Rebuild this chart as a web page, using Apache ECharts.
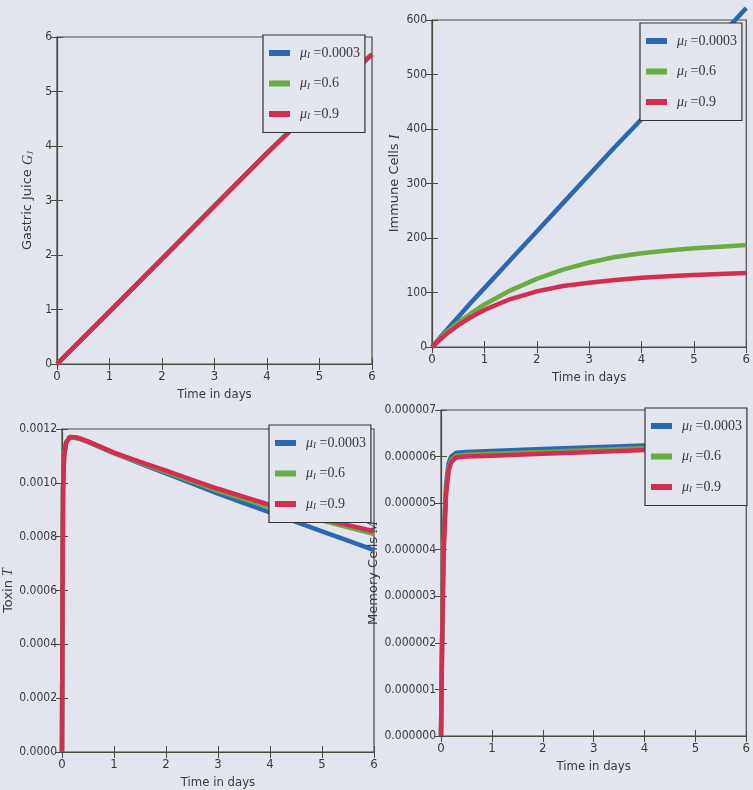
<!DOCTYPE html>
<html>
<head>
<meta charset="utf-8">
<script src="https://cdn.jsdelivr.net/npm/echarts@6/dist/echarts.min.js"></script>
<style>
  html, body { margin: 0; padding: 0; background: #e3e5ee; }
  #chart { width: 753px; height: 790px; }
</style>
</head>
<body>
<div id="chart"></div>
<script>
// legend values of mu_I
const muValues = ["0.0003", "0.6", "0.9"];
const lineColors = ["#2c68b2", "#6aab42", "#d42d52"];

// Gastric juice G_J
const timeG = [0, 1, 2, 3, 4, 5, 6];
const gastricA = [0, 0.96, 1.93, 2.9, 3.87, 4.8, 5.68];
const gastricB = [0, 0.96, 1.93, 2.9, 3.87, 4.8, 5.68];
const gastricC = [0, 0.96, 1.93, 2.9, 3.87, 4.8, 5.68];

// Immune cells I
const timeI = [0, 0.25, 0.5, 0.75, 1, 1.5, 2, 2.5, 3, 3.5, 4, 4.5, 5, 5.5, 6];
const immuneA = [0, 28, 55, 82, 108, 160, 212, 264, 316, 368, 418, 470, 520, 570, 622];
const immuneB = [0, 25, 45, 62, 78, 104, 125, 142, 155, 165, 172, 177, 181, 184, 187];
const immuneC = [0, 22, 40, 55, 68, 88, 102, 112, 118, 123, 127, 130, 132, 134, 136];

// Toxin T
const timeT = [0, 0.01, 0.02, 0.04, 0.08, 0.15, 0.3, 0.5, 1, 1.5, 2, 2.5, 3, 3.5, 4, 4.5, 5, 5.5, 6];
const toxinA = [0, 0.0006, 0.00098, 0.0011, 0.00115, 0.00117, 0.001166, 0.001152, 0.00111, 0.001072, 0.001035, 0.000998, 0.00096, 0.000925, 0.00089, 0.000855, 0.00082, 0.000785, 0.00075];
const toxinB = [0, 0.0006, 0.00098, 0.0011, 0.00115, 0.00117, 0.001166, 0.001152, 0.00111, 0.001075, 0.00104, 0.001005, 0.00097, 0.00094, 0.00091, 0.000885, 0.00086, 0.000835, 0.00081];
const toxinC = [0, 0.0006, 0.00098, 0.0011, 0.00115, 0.00117, 0.001168, 0.001154, 0.001112, 0.001078, 0.001045, 0.001011, 0.000978, 0.000948, 0.000918, 0.000892, 0.000866, 0.000843, 0.00082];

// Memory cells M
const timeM = [0, 0.02, 0.05, 0.1, 0.15, 0.2, 0.3, 0.5, 1, 2, 3, 4, 5, 6];
const memoryA = [0, 2.0e-6, 4.2e-6, 5.4e-6, 5.85e-6, 6.0e-6, 6.08e-6, 6.1e-6, 6.12e-6, 6.16e-6, 6.2e-6, 6.24e-6, 6.27e-6, 6.3e-6];
const memoryB = [0, 1.9e-6, 4.0e-6, 5.3e-6, 5.75e-6, 5.92e-6, 6.02e-6, 6.04e-6, 6.06e-6, 6.1e-6, 6.14e-6, 6.18e-6, 6.21e-6, 6.25e-6];
const memoryC = [0, 1.8e-6, 3.9e-6, 5.2e-6, 5.7e-6, 5.88e-6, 5.98e-6, 6.0e-6, 6.02e-6, 6.06e-6, 6.1e-6, 6.14e-6, 6.18e-6, 6.22e-6];

const xTicks = { min: 0, max: 6, interval: 1 };

const panels = [
  { grid: { left: 57, top: 37, width: 315, height: 327 }, legend: { left: 263, top: 35 },
    time: timeG, ys: [gastricA, gastricB, gastricC], yMin: 0, yMax: 6, yInt: 1, digits: 0,
    yName: "Gastric Juice {i|G}{s|J}", yGap: 22 },
  { grid: { left: 432, top: 20, width: 315, height: 327 }, legend: { left: 640, top: 23 },
    time: timeI, ys: [immuneA, immuneB, immuneC], yMin: 0, yMax: 600, yInt: 100, digits: 0,
    yName: "Immune Cells {i|I}", yGap: 30 },
  { grid: { left: 62, top: 429, width: 312, height: 327 }, legend: { left: 269, top: 425 },
    time: timeT, ys: [toxinA, toxinB, toxinC], yMin: 0, yMax: 0.0012, yInt: 0.0002, digits: 4,
    yName: "Toxin {i|T}", yGap: 46 },
  { grid: { left: 441, top: 410, width: 311, height: 326 }, legend: { left: 645, top: 408 },
    time: timeM, ys: [memoryA, memoryB, memoryC], yMin: 0, yMax: 0.000007, yInt: 0.000001, digits: 6,
    yName: "Memory Cells {i|M}", yGap: 58 }
];

const textColor = "#3a3a3a";
const axisColor = "#4a4a40";

var grids = [], xAxes = [], yAxes = [], legends = [], series = [];

panels.forEach(function (p, k) {
  grids.push(Object.assign({ show: true, borderColor: axisColor, borderWidth: 1.2, backgroundColor: "transparent" }, p.grid));

  // bottom axis with labels
  xAxes.push(Object.assign({
    type: "value", gridIndex: k, position: "bottom",
    name: "Time in days", nameLocation: "middle", nameGap: 24,
    nameTextStyle: { color: textColor, fontSize: 13, fontFamily: "DejaVu Sans Condensed, DejaVu Sans" },
    axisLine: { show: true, lineStyle: { color: axisColor, width: 1.2 } },
    axisTick: { show: true, inside: true, length: 6, lineStyle: { color: axisColor } },
    axisLabel: { color: textColor, fontSize: 13, margin: 6, fontFamily: "DejaVu Sans Condensed, DejaVu Sans" },
    splitLine: { show: false }
  }, xTicks));
  // top mirror ticks
  xAxes.push(Object.assign({
    type: "value", gridIndex: k, position: "top",
    axisLine: { show: false },
    axisTick: { show: true, inside: true, length: 6, lineStyle: { color: axisColor } },
    axisLabel: { show: false }, splitLine: { show: false }
  }, xTicks));

  yAxes.push({
    type: "value", gridIndex: k, position: "left",
    min: p.yMin, max: p.yMax, interval: p.yInt,
    name: p.yName, nameLocation: "middle", nameGap: p.yGap, nameRotate: 90,
    nameTextStyle: {
      color: textColor, fontSize: 13, fontFamily: "DejaVu Sans",
      rich: {
        i: { fontStyle: "italic", fontFamily: "Liberation Serif", fontSize: 14, color: textColor },
        s: { fontStyle: "italic", fontFamily: "Liberation Serif", fontSize: 9, color: textColor, verticalAlign: "bottom" }
      }
    },
    axisLine: { show: true, lineStyle: { color: axisColor, width: 1.2 } },
    axisTick: { show: true, inside: true, length: 6, lineStyle: { color: axisColor } },
    axisLabel: {
      color: textColor, fontSize: 12, margin: 5, fontFamily: "DejaVu Sans Condensed, DejaVu Sans",
      formatter: (function (d) { return function (v) { return v.toFixed(d); }; })(p.digits)
    },
    splitLine: { show: false }
  });
  yAxes.push({
    type: "value", gridIndex: k, position: "right",
    min: p.yMin, max: p.yMax, interval: p.yInt,
    axisLine: { show: false },
    axisTick: { show: true, inside: true, length: 6, lineStyle: { color: axisColor } },
    axisLabel: { show: false }, splitLine: { show: false }
  });

  legends.push({
    left: p.legend.left, top: p.legend.top, orient: "vertical",
    data: muValues, z: 20,
    backgroundColor: "#e3e5ee", borderColor: "#333", borderWidth: 1.2,
    padding: [11, 5, 11, 6], itemGap: 16,
    itemWidth: 21, itemHeight: 6, icon: "rect",
    selectedMode: false,
    formatter: function (n) { return "{m|μ}{s|I}{v| =" + n + "}"; },
    textStyle: {
      color: textColor,
      rich: {
        m: { fontFamily: "Liberation Serif", fontStyle: "italic", fontSize: 14, color: textColor, padding: [0, 0, 0, 5] },
        s: { fontFamily: "Liberation Serif", fontStyle: "italic", fontSize: 9, color: textColor, verticalAlign: "bottom", padding: [6, 0, 0, 0] },
        v: { fontFamily: "Liberation Serif", fontSize: 14, color: textColor }
      }
    }
  });

  p.ys.forEach(function (vals, j) {
    series.push({
      name: muValues[j], type: "line",
      xAxisIndex: 2 * k, yAxisIndex: 2 * k,
      data: p.time.map(function (t, i) { return [t, vals[i]]; }),
      showSymbol: false, smooth: false, clip: false,
      lineStyle: { width: 4.5, color: lineColors[j] },
      itemStyle: { color: lineColors[j] },
      z: 2 + j
    });
  });
});

var chart = echarts.init(document.getElementById("chart"), null, { renderer: "canvas" });
chart.setOption({
  backgroundColor: "#e3e5ee",
  animation: false,
  grid: grids,
  xAxis: xAxes,
  yAxis: yAxes,
  legend: legends,
  series: series
});
</script>
</body>
</html>
